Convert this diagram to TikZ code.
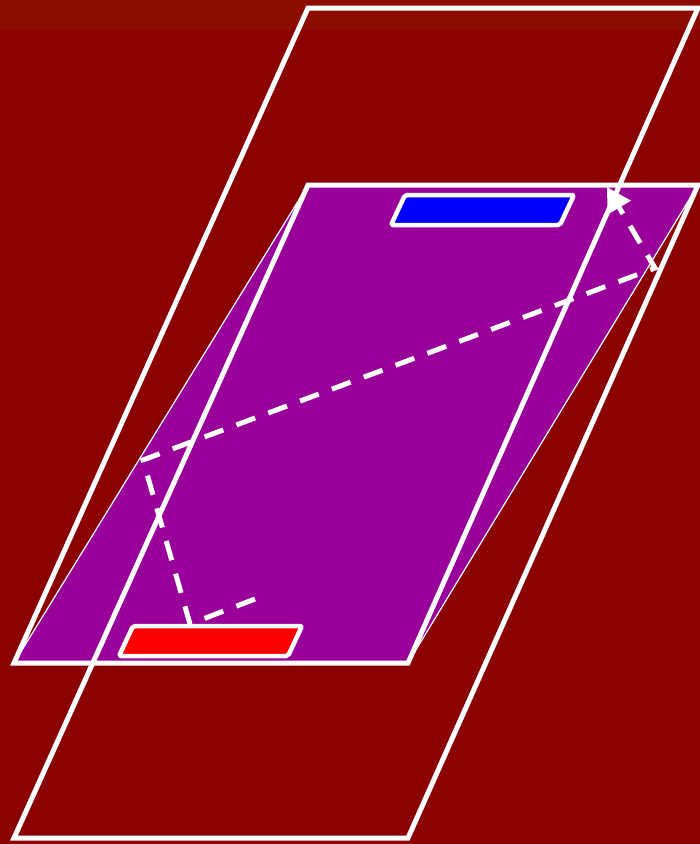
\documentclass[tikz,border=0pt]{standalone}
\usepackage{xcolor}
\usepackage{tikz}
\usetikzlibrary{calc,arrows.meta}
\definecolor{darkbg}{HTML}{8B0000}
\definecolor{topband}{HTML}{8C0D00}
\definecolor{purplex}{HTML}{990099}
\definecolor{bluex}{HTML}{0000FF}
\definecolor{redx}{HTML}{FF0000}
\tikzset{
  frame/.style={draw=white,line width=5pt,line join=miter},
  plate/.style={draw=white,line width=4.5pt,rounded corners=2pt,line join=round},
  ray/.style={draw=white,line width=5pt,dash pattern=on 20pt off 14pt,-{Triangle[length=24pt,width=26pt]}}
}

\begin{document}
\begin{tikzpicture}[x=1pt,y=-1pt]
\useasboundingbox (0,0) rectangle (700,844);
\fill[darkbg] (0,0) rectangle (700,844);
\fill[topband] (0,0) rectangle (700,30);
% swept region
\fill[purplex,draw=white,line width=1.2pt] (14,663)--(308,185)--(698,185)--(408,663)--cycle;
% the two frames
\draw[frame] (308,8)--(698,8)--(408,663)--(14,663)--cycle;
\draw[frame] (308,185)--(698,185)--(408,838)--(14,838)--cycle;
% plates
\filldraw[plate,fill=bluex] (405,195)--(574,195)--(560,225)--(391,225)--cycle;
\filldraw[plate,fill=redx] (133,626)--(302,626)--(288,656)--(119,656)--cycle;
% light path
\coordinate (start) at (255,599);
\coordinate (hit) at (190,624);
\coordinate (bl) at (143,460);
\coordinate (br) at (655,268);
\coordinate (tip) at (607,187);
\draw[ray] (start)--(hit)--(bl)--(br)--(tip);
\end{tikzpicture}
\end{document}
